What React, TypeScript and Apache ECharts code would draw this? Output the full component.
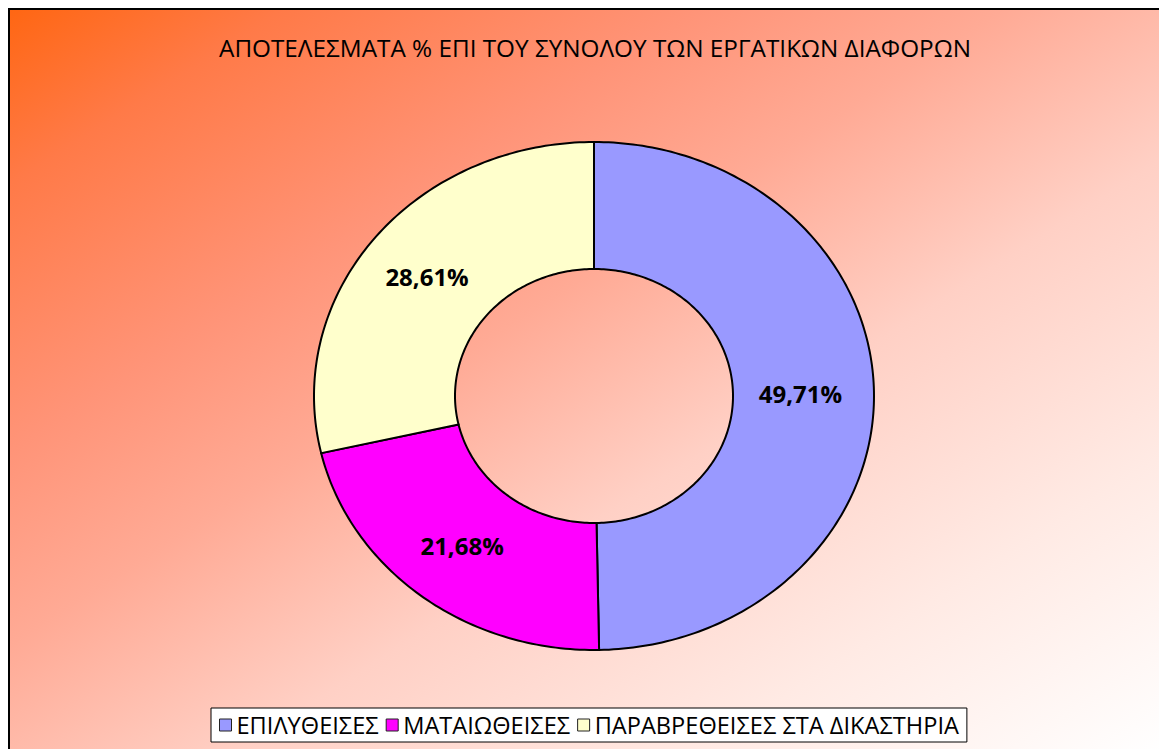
import React, { useEffect, useRef } from "react";
import * as echarts from "echarts";

const TITLE = "ΑΠΟΤΕΛΕΣΜΑΤΑ % ΕΠΙ ΤΟΥ ΣΥΝΟΛΟΥ ΤΩΝ ΕΡΓΑΤΙΚΩΝ ΔΙΑΦΟΡΩΝ";
const CATEGORIES = ["ΕΠΙΛΥΘΕΙΣΕΣ", "ΜΑΤΑΙΩΘΕΙΣΕΣ", "ΠΑΡΑΒΡΕΘΕΙΣΕΣ ΣΤΑ ΔΙΚΑΣΤΗΡΙΑ"];
const VALUES = [49.71, 21.68, 28.61];
const COLORS = ["#9999FF", "#FF00FF", "#FFFFCC"];

// layout (chart coordinates)
const CX = 586;
const CY = 388;
const RX = 280;
const RY = 254;
const IRX = 139;
const IRY = 127;
const FONT = '"Open Sans", "Noto Sans", sans-serif';

const fmt = (v: number) => v.toFixed(2).replace(".", ",") + "%";

export default function App() {
  const ref = useRef<HTMLDivElement>(null);
  useEffect(() => {
    document.documentElement.style.overflow = "hidden";
    const chart = echarts.init(ref.current!, null, { renderer: "svg" });
    const total = VALUES.reduce((a, b) => a + b, 0);

    const renderSlice = (params: any, api: any) => {
      const i = params.seriesIndex;
      let before = 0;
      for (let k = 0; k < i; k++) before += VALUES[k];
      const v = api.value(0);
      const a0 = (before / total) * Math.PI * 2;
      const a1 = ((before + v) / total) * Math.PI * 2;
      const n = Math.max(2, Math.ceil(((a1 - a0) * 180) / Math.PI));
      const pts: number[][] = [];
      for (let j = 0; j <= n; j++) {
        const a = a0 + ((a1 - a0) * j) / n;
        pts.push([CX + RX * Math.sin(a), CY - RY * Math.cos(a)]);
      }
      for (let j = n; j >= 0; j--) {
        const a = a0 + ((a1 - a0) * j) / n;
        pts.push([CX + IRX * Math.sin(a), CY - IRY * Math.cos(a)]);
      }
      const am = (a0 + a1) / 2;
      const lx = CX + ((RX + IRX) / 2) * Math.sin(am) - 3;
      const ly = CY - ((RY + IRY) / 2) * Math.cos(am) - 1;
      return {
        type: "group",
        children: [
          {
            type: "polygon",
            shape: { points: pts },
            style: { fill: COLORS[i], stroke: "#000", lineWidth: 2 },
          },
          {
            type: "text",
            x: lx,
            y: ly,
            style: {
              text: fmt(v),
              fill: "#000",
              font: `bold 24px ${FONT}`,
              align: "center",
              verticalAlign: "middle",
              textAlign: "center",
              textVerticalAlign: "middle",
            },
          },
        ],
      };
    };

    chart.setOption({
      animation: false,
      backgroundColor: new echarts.graphic.LinearGradient(0, 0, 1, 1, [
        { offset: 0, color: "#FF6612" },
        { offset: 0.12, color: "#FF7A48" },
        { offset: 0.3, color: "#FF9478" },
        { offset: 0.43, color: "#FFAA95" },
        { offset: 0.6, color: "#FFD0C5" },
        { offset: 0.8, color: "#FFEAE4" },
        { offset: 1, color: "#FFFFFF" },
      ]),
      graphic: [
        {
          type: "polyline",
          shape: { points: [[1, 741], [1, 1], [1159, 1]] },
          style: { stroke: "#000", lineWidth: 2, fill: null },
        },
        {
          type: "text",
          x: 587,
          y: 39,
          style: {
            text: TITLE,
            fill: "#000",
            font: `24.3px ${FONT}`,
            align: "center",
            verticalAlign: "middle",
            textAlign: "center",
            textVerticalAlign: "middle",
          },
        },
      ],
      legend: {
        left: 203,
        top: 700,
        orient: "horizontal",
        backgroundColor: "#FFFFFF",
        borderColor: "#000",
        borderWidth: 1,
        borderRadius: 0,
        padding: [5, 8, 5, 8],
        itemWidth: 12,
        itemHeight: 12,
        itemGap: 7,
        icon: "rect",
        textStyle: { fontFamily: FONT, fontSize: 23.6, color: "#000" },
        data: CATEGORIES.map((c, i) => ({
          name: c,
          icon: "rect",
          itemStyle: { color: COLORS[i], borderColor: "#222", borderWidth: 1 },
        })),
      },
      series: CATEGORIES.map((c, i) => ({
        type: "custom",
        name: c,
        coordinateSystem: "none",
        itemStyle: { color: COLORS[i] },
        renderItem: renderSlice,
        data: [[VALUES[i]]],
      })),
    });
    return () => chart.dispose();
  }, []);
  return <div ref={ref} style={{ width: 1159, height: 741 }} />;
}
